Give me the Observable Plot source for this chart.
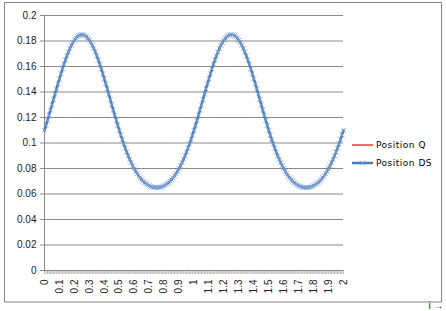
<!DOCTYPE html>
<html><head><meta charset="utf-8">
<script src="https://cdn.jsdelivr.net/npm/d3@7"></script>
<script src="https://cdn.jsdelivr.net/npm/@observablehq/plot@0.6"></script>
<style>
html,body{margin:0;padding:0;background:#fff;overflow:hidden;width:446px;height:311px;}
#wrap{position:relative;width:446px;height:311px;overflow:hidden;background:#fff;}
#frame{position:absolute;left:0;top:0;z-index:5;pointer-events:none;}
#chart{position:absolute;left:0;top:0;width:446px;height:311px;z-index:1;}
#chart svg{display:block;}
#legend{position:absolute;left:352px;top:136px;font-family:"DejaVu Sans",sans-serif;font-size:9px;color:#000;letter-spacing:0.5px;z-index:3;}
.row{display:flex;align-items:center;height:18px;}
.sw{width:21px;height:14px;margin-right:3px;}
</style></head>
<body>
<div id="wrap"><div id="chart"></div>
<svg id="frame" width="446" height="311"><rect x="4.5" y="2.5" width="437" height="299.5" fill="none" stroke="#868686" stroke-width="1"/></svg>
<div id="legend">
<div class="row"><svg class="sw" width="21" height="14"><line x1="0" x2="21" y1="7" y2="7" stroke="#d9403c" stroke-width="1.5"/></svg><span id="lq"></span></div>
<div class="row"><svg class="sw" width="21" height="14"><line x1="0" x2="21" y1="7" y2="7" stroke="#4a7ebb" stroke-width="2.5"/><path d="M8,4.5L13,9.5M13,4.5L8,9.5" stroke="#7fa3d6" stroke-width="1"/></svg><span id="lds"></span></div>
</div>
</div>
<script>
const seriesNames = ["Position Q", "Position DS"];
const xTickLabels = ["0","0.1","0.2","0.3","0.4","0.5","0.6","0.7","0.8","0.9","1","1.1","1.2","1.3","1.4","1.5","1.6","1.7","1.8","1.9","2"];
const yTicks = [0,0.02,0.04,0.06,0.08,0.1,0.12,0.14,0.16,0.18,0.2];
const yTickLabels = ["0","0.02","0.04","0.06","0.08","0.1","0.12","0.14","0.16","0.18","0.2"];
const positionDS = [
0.11,0.1138,0.1178,0.1218,0.1258,0.13,0.1341,0.1383,0.1424,0.1465,0.1504,0.1543,0.1581,0.1617,0.1651,0.1684,0.1714,0.1741,0.1766,0.1788,0.1806,0.1822,0.1834,0.1843,0.1848,
0.185,0.1848,0.1843,0.1834,0.1822,0.1806,0.1788,0.1766,0.1741,0.1714,0.1684,0.1651,0.1617,0.1581,0.1543,0.1504,0.1465,0.1424,0.1383,0.1341,0.13,0.1258,0.1218,0.1178,0.1138,
0.11,0.1063,0.1027,0.0993,0.096,0.0929,0.0899,0.0872,0.0846,0.0822,0.0799,0.0779,0.076,0.0742,0.0727,0.0713,0.07,0.0689,0.068,0.0672,0.0665,0.066,0.0655,0.0652,0.0651,
0.065,0.0651,0.0652,0.0655,0.066,0.0665,0.0672,0.068,0.0689,0.07,0.0713,0.0727,0.0742,0.076,0.0779,0.0799,0.0822,0.0846,0.0872,0.0899,0.0929,0.096,0.0993,0.1027,0.1063,
0.11,0.1138,0.1178,0.1218,0.1258,0.13,0.1341,0.1383,0.1424,0.1465,0.1504,0.1543,0.1581,0.1617,0.1651,0.1684,0.1714,0.1741,0.1766,0.1788,0.1806,0.1822,0.1834,0.1843,0.1848,
0.185,0.1848,0.1843,0.1834,0.1822,0.1806,0.1788,0.1766,0.1741,0.1714,0.1684,0.1651,0.1617,0.1581,0.1543,0.1504,0.1465,0.1424,0.1383,0.1341,0.13,0.1258,0.1218,0.1178,0.1138,
0.11,0.1063,0.1027,0.0993,0.096,0.0929,0.0899,0.0872,0.0846,0.0822,0.0799,0.0779,0.076,0.0742,0.0727,0.0713,0.07,0.0689,0.068,0.0672,0.0665,0.066,0.0655,0.0652,0.0651,
0.065,0.0651,0.0652,0.0655,0.066,0.0665,0.0672,0.068,0.0689,0.07,0.0713,0.0727,0.0742,0.076,0.0779,0.0799,0.0822,0.0846,0.0872,0.0899,0.0929,0.096,0.0993,0.1027,0.1063,
0.11];
const positionQ = positionDS; // hidden beneath Position DS in the reference

document.getElementById("lq").textContent = seriesNames[0];
document.getElementById("lds").textContent = seriesNames[1];

const data = positionDS.map((v, i) => ({i, ds: v, q: positionQ[i]}));
const catIdx = data.map(d => d.i);

const chart = Plot.plot({
  width: 446, height: 311,
  marginLeft: 44, marginRight: 103, marginTop: 15, marginBottom: 41,
  style: {fontFamily: "'Liberation Sans', Arial, sans-serif", fontSize: "10px", color: "#222", background: "transparent"},
  x: {domain: [0, positionDS.length - 1]},
  y: {domain: [0, 0.2]},
  marks: [
    Plot.ruleY(yTicks, {stroke: "#8a8a8a", strokeWidth: 1}),
    Plot.ruleX([0], {stroke: "#8a8a8a"}),
    Plot.axisY({ticks: yTicks, tickSize: 4, tickPadding: 4, stroke: "#8a8a8a", tickFormat: (d) => yTickLabels[yTicks.indexOf(d)]}),
    Plot.axisX({ticks: catIdx, tickSize: 4, tickPadding: 5, tickRotate: -90, stroke: "#8a8a8a", strokeWidth: 0.6,
      tickFormat: (i) => i % 10 === 0 ? xTickLabels[i / 10] : ""}),
    Plot.line(data, {x: "i", y: "q", stroke: "#d9403c", strokeWidth: 1.5}),
    Plot.line(data, {x: "i", y: "ds", stroke: "#4a7ebb", strokeWidth: 2.5}),
    Plot.dot(data, {x: "i", y: "ds", symbol: "times", r: 2.3, stroke: "#7fa3d6", strokeWidth: 0.9})
  ]
});
document.getElementById("chart").appendChild(chart);
</script>
</body></html>
